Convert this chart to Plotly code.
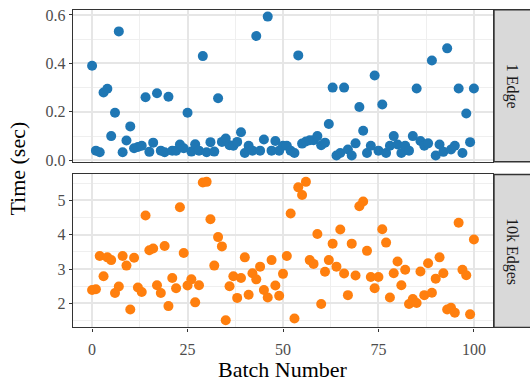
import plotly.graph_objects as go

# ---------------- data ----------------
batch = list(range(101))

one_edge = [
    0.39, 0.04, 0.033, 0.28, 0.295, 0.10, 0.196, 0.532, 0.033, 0.082,
    0.14, 0.05, 0.055, 0.06, 0.26, 0.035, 0.073, 0.277, 0.04, 0.033,
    0.262, 0.04, 0.04, 0.065, 0.05, 0.196, 0.036, 0.066, 0.04, 0.43,
    0.033, 0.075, 0.036, 0.256, 0.076, 0.09, 0.062, 0.06, 0.076, 0.116,
    0.03, 0.06, 0.04, 0.513, 0.04, 0.086, 0.593, 0.04, 0.08, 0.04,
    0.06, 0.06, 0.04, 0.03, 0.433, 0.069, 0.078, 0.083, 0.083, 0.10,
    0.062, 0.073, 0.15, 0.30, 0.02, 0.03, 0.30, 0.045, 0.02, 0.07,
    0.22, 0.122, 0.03, 0.06, 0.35, 0.04, 0.23, 0.03, 0.06, 0.10,
    0.065, 0.03, 0.06, 0.04, 0.10, 0.296, 0.08, 0.06, 0.07, 0.412,
    0.02, 0.065, 0.035, 0.462, 0.045, 0.06, 0.296, 0.03, 0.193, 0.075,
    0.296,
]

tenk_edges = [
    2.39, 2.41, 3.38, 2.79, 3.34, 3.26, 2.30, 2.49, 3.38, 3.10,
    1.82, 3.33, 2.46, 2.33, 4.56, 3.55, 3.60, 2.53, 2.30, 3.67,
    1.92, 2.74, 2.44, 4.80, 3.47, 2.52, 2.70, 2.03, 2.53, 5.52,
    5.54, 4.45, 3.10, 3.93, 3.66, 1.51, 2.50, 2.79, 2.16, 2.74,
    3.34, 2.25, 2.88, 2.70, 3.07, 2.39, 2.17, 3.26, 2.52, 2.22,
    2.86, 3.38, 4.62, 1.56, 5.38, 5.16, 5.54, 3.26, 3.15, 4.02,
    1.98, 2.92, 3.26, 3.74, 3.07, 4.15, 2.87, 2.24, 3.74, 2.81,
    4.83, 4.97, 3.53, 2.77, 2.44, 2.77, 4.16, 3.77, 2.17, 2.88,
    3.22, 2.53, 2.98, 1.98, 2.13, 2.01, 2.93, 2.24, 3.17, 2.31,
    2.72, 3.34, 2.88, 1.82, 1.87, 1.73, 4.35, 2.98, 2.82, 1.68,
    3.86,
]

panel_labels = ["1 Edge", "10k Edges"]
x_ticks = [0, 25, 50, 75, 100]
top_y_ticks = [0.0, 0.2, 0.4, 0.6]
top_y_labels = ["0.0", "0.2", "0.4", "0.6"]
bot_y_ticks = [2, 3, 4, 5]

# ---------------- layout helpers ----------------
W, H = 530, 387
def fx(p):
    return p / W
def fy(p):
    return 1 - p / H

FONT = "Liberation Serif"
BORDER = "#333333"
GRID = "#e6e6e6"
MINOR = "#efefef"

x_left, x_right = 73, 493
top_t, top_b = 7, 163
bot_t, bot_b = 176, 333

fig = go.Figure()
fig.add_trace(go.Scatter(x=batch, y=one_edge, mode="markers",
                         marker=dict(color="#1f77b4", size=10),
                         xaxis="x", yaxis="y", showlegend=False))
fig.add_trace(go.Scatter(x=batch, y=tenk_edges, mode="markers",
                         marker=dict(color="#ff7f0e", size=10),
                         xaxis="x2", yaxis="y2", showlegend=False))

common = dict(showline=True, mirror=True, linecolor=BORDER, linewidth=1.4,
              showgrid=True, gridcolor=GRID, gridwidth=1.5, zeroline=False,
              tickfont=dict(family=FONT, size=16, color="#4d4d4d"))

fig.update_layout(
    width=W, height=H,
    margin=dict(l=0, r=0, t=0, b=0),
    paper_bgcolor="white", plot_bgcolor="white",
    xaxis=dict(domain=[fx(x_left), fx(x_right)], anchor="y", range=[-5, 105],
               tickvals=x_ticks, showticklabels=False, ticks="",
               minor=dict(dtick=12.5, tick0=12.5, showgrid=True, gridcolor=MINOR, gridwidth=1),
               **common),
    yaxis=dict(domain=[fy(top_b), fy(top_t)], anchor="x", range=[-0.006, 0.621],
               tickvals=top_y_ticks, ticktext=top_y_labels,
               ticks="outside", ticklen=3, tickcolor=BORDER, tickwidth=1,
               minor=dict(tickvals=[0.1, 0.3, 0.5], showgrid=True, gridcolor=MINOR, gridwidth=1, ticks=""),
               **common),
    xaxis2=dict(domain=[fx(x_left), fx(x_right)], anchor="y2", range=[-5, 105],
                tickvals=x_ticks, ticks="outside", ticklen=3, tickcolor=BORDER, tickwidth=1,
                ticklabelstandoff=4,
                minor=dict(dtick=12.5, tick0=12.5, showgrid=True, gridcolor=MINOR, gridwidth=1, ticks=""),
                **common),
    yaxis2=dict(domain=[fy(bot_b), fy(bot_t)], anchor="x2", range=[1.30, 5.756],
                tickvals=bot_y_ticks,
                ticks="outside", ticklen=3, tickcolor=BORDER, tickwidth=1,
                minor=dict(tickvals=[1.5, 2.5, 3.5, 4.5, 5.5], showgrid=True, gridcolor=MINOR, gridwidth=1, ticks=""),
                **common),
)

# strips
shapes = []
annotations = []
for (t, b), lab in zip([(top_t, top_b), (bot_t, bot_b)], panel_labels):
    shapes.append(dict(type="rect", xref="paper", yref="paper",
                       x0=fx(494), x1=fx(531), y0=fy(b), y1=fy(t),
                       fillcolor="#d9d9d9", line=dict(color=BORDER, width=1.4), layer="above"))
    annotations.append(dict(text=lab, xref="paper", yref="paper",
                            x=fx(512), y=fy((t + b) / 2), showarrow=False, textangle=90,
                            font=dict(family=FONT, size=16, color="#1a1a1a"),
                            xanchor="center", yanchor="middle"))

annotations.append(dict(text="Time (sec)", xref="paper", yref="paper",
                        x=fx(18), y=fy((top_t + bot_b) / 2), showarrow=False, textangle=-90,
                        font=dict(family=FONT, size=22, color="black"),
                        xanchor="center", yanchor="middle"))
annotations.append(dict(text="Batch Number", xref="paper", yref="paper",
                        x=fx((x_left + x_right) / 2), y=fy(376), showarrow=False,
                        font=dict(family=FONT, size=22, color="black"),
                        xanchor="center", yanchor="middle"))

fig.update_layout(shapes=shapes, annotations=annotations)

fig.write_html("out.html")
